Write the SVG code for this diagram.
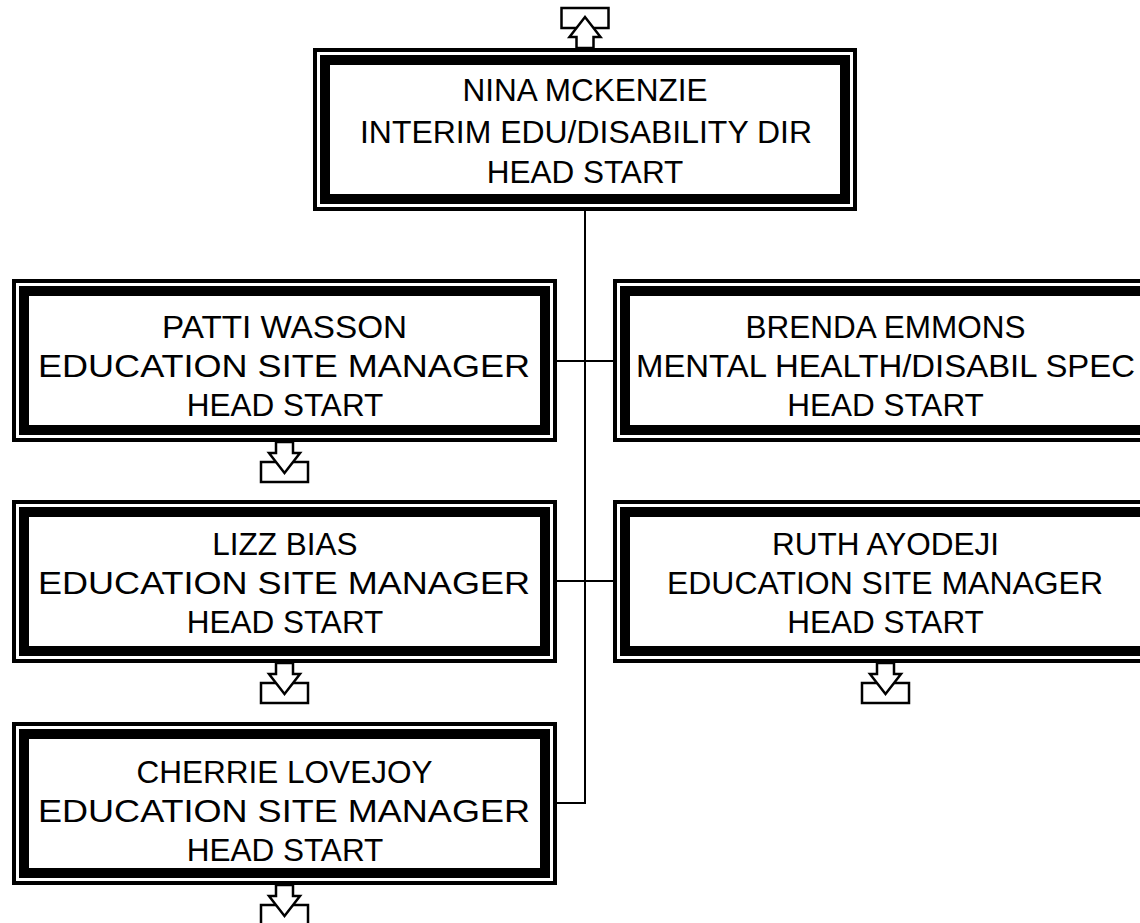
<svg xmlns="http://www.w3.org/2000/svg" xmlns:xlink="http://www.w3.org/1999/xlink" width="1140" height="923" viewBox="0 0 1140 923">
<style>
.blk{fill:#000}
.wht{fill:#fff}
.t{font-family:"Liberation Sans",Arial,sans-serif;font-size:31.5px;fill:#000;text-anchor:middle}
.conn{stroke:#000;stroke-width:2;fill:none}
.ico{fill:#fff;stroke:#000;stroke-width:2.5;stroke-linejoin:miter}
</style>
<defs>
<g id="down">
<rect class="ico" x="-23.5" y="20" width="47" height="20"/>
<polygon class="ico" points="-8.5,0 8.5,0 8.5,11 15.5,11 0,31 -15.5,11 -8.5,11"/>
</g>
<g id="up">
<rect class="ico" x="-23.5" y="-40" width="47" height="20"/>
<polygon class="ico" points="-8.5,0 8.5,0 8.5,-11 15.5,-11 0,-31 -15.5,-11 -8.5,-11"/>
</g>
</defs>
<rect x="0" y="0" width="1140" height="923" fill="#fff"/>
<g id="connectors">
<line class="conn" x1="585" y1="211" x2="585" y2="804"/>
<line class="conn" x1="557" y1="361" x2="613" y2="361"/>
<line class="conn" x1="557" y1="581" x2="613" y2="581"/>
<line class="conn" x1="557" y1="803" x2="585" y2="803"/>
</g>
<g id="nina">
<rect class="blk" x="313" y="48" width="544" height="163"/>
<rect class="wht" x="317" y="52" width="536" height="155"/>
<rect class="blk" x="320" y="55" width="530" height="149"/>
<rect class="wht" x="330" y="65" width="510" height="129"/>
<text class="t" x="585" y="101.3">NINA MCKENZIE</text>
<text class="t" x="586" y="143.3" textLength="452" lengthAdjust="spacingAndGlyphs">INTERIM EDU/DISABILITY DIR</text>
<text class="t" x="585" y="183.3">HEAD START</text>
<use xlink:href="#up" x="585" y="48"/>
</g>
<g id="patti">
<rect class="blk" x="12" y="279" width="545" height="163"/>
<rect class="wht" x="16" y="283" width="537" height="155"/>
<rect class="blk" x="19" y="286" width="531" height="149"/>
<rect class="wht" x="29" y="296" width="511" height="129"/>
<text class="t" x="284.5" y="338.3" textLength="245" lengthAdjust="spacingAndGlyphs">PATTI WASSON</text>
<text class="t" x="284" y="377.3" textLength="492" lengthAdjust="spacingAndGlyphs">EDUCATION SITE MANAGER</text>
<text class="t" x="285" y="416.3">HEAD START</text>
<use xlink:href="#down" x="284.5" y="442"/>
</g>
<g id="brenda">
<rect class="blk" x="613" y="279" width="545" height="163"/>
<rect class="wht" x="617" y="283" width="537" height="155"/>
<rect class="blk" x="620" y="286" width="531" height="149"/>
<rect class="wht" x="630" y="296" width="511" height="129"/>
<text class="t" x="885.5" y="338.3">BRENDA EMMONS</text>
<text class="t" x="885.5" y="377.3" textLength="499" lengthAdjust="spacingAndGlyphs">MENTAL HEALTH/DISABIL SPEC</text>
<text class="t" x="885.5" y="416.3">HEAD START</text>
</g>
<g id="lizz">
<rect class="blk" x="12" y="500" width="545" height="163"/>
<rect class="wht" x="16" y="504" width="537" height="155"/>
<rect class="blk" x="19" y="507" width="531" height="149"/>
<rect class="wht" x="29" y="517" width="511" height="129"/>
<text class="t" x="285" y="555.3">LIZZ BIAS</text>
<text class="t" x="284" y="594.3" textLength="492" lengthAdjust="spacingAndGlyphs">EDUCATION SITE MANAGER</text>
<text class="t" x="285" y="633.3">HEAD START</text>
<use xlink:href="#down" x="284.5" y="663"/>
</g>
<g id="ruth">
<rect class="blk" x="613" y="500" width="545" height="163"/>
<rect class="wht" x="617" y="504" width="537" height="155"/>
<rect class="blk" x="620" y="507" width="531" height="149"/>
<rect class="wht" x="630" y="517" width="511" height="129"/>
<text class="t" x="885.5" y="555.3">RUTH AYODEJI</text>
<text class="t" x="885" y="594.3" textLength="436" lengthAdjust="spacingAndGlyphs">EDUCATION SITE MANAGER</text>
<text class="t" x="885.5" y="633.3">HEAD START</text>
<use xlink:href="#down" x="885.5" y="663"/>
</g>
<g id="cherrie">
<rect class="blk" x="12" y="722" width="545" height="163"/>
<rect class="wht" x="16" y="726" width="537" height="155"/>
<rect class="blk" x="19" y="729" width="531" height="149"/>
<rect class="wht" x="29" y="739" width="511" height="129"/>
<text class="t" x="284.5" y="783.3">CHERRIE LOVEJOY</text>
<text class="t" x="284" y="822.3" textLength="492" lengthAdjust="spacingAndGlyphs">EDUCATION SITE MANAGER</text>
<text class="t" x="285" y="861.3">HEAD START</text>
<use xlink:href="#down" x="284.5" y="885"/>
</g>
</svg>
